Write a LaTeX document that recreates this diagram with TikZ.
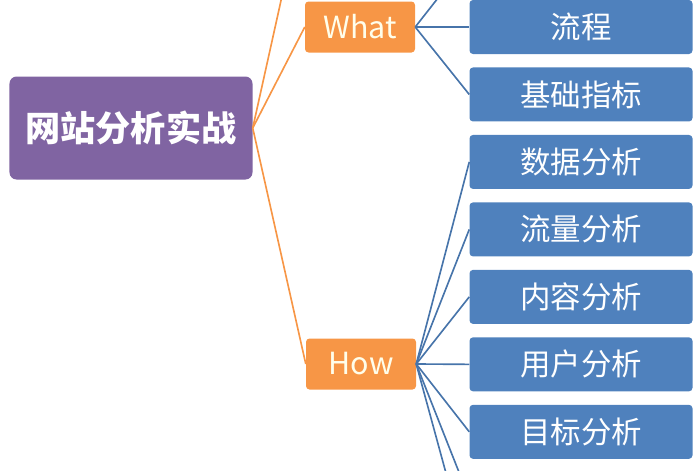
\documentclass[tikz,border=0pt]{standalone}
\usepackage{fontspec}
\newfontfamily\cjk{Noto Sans CJK SC}
\usetikzlibrary{positioning}
\definecolor{rootc}{HTML}{8064A2}
\definecolor{topicc}{HTML}{F79646}
\definecolor{leafc}{HTML}{4F81BD}

\begin{document}
\begin{tikzpicture}[
    root/.style={rounded corners=6pt, fill=rootc, minimum width=7.29cm, minimum height=3.09cm, text=white, font=\cjk\bfseries\fontsize{30}{34}\selectfont},
    topic/.style={rounded corners=3pt, fill=topicc, minimum width=3.3cm, minimum height=1.53cm, text=white!92!yellow, font=\cjk\fontsize{26}{30}\selectfont},
    leaf/.style={rounded corners=3pt, fill=leafc, minimum width=6.69cm, minimum height=1.62cm, text=white, font=\cjk\fontsize{26}{30}\selectfont},
    obranch/.style={draw=topicc, line width=1.4pt},
    bbranch/.style={draw=leafc!90!black, line width=1.4pt},
]
\useasboundingbox (0,0) rectangle (21,-14.1);
\clip (0,0) rectangle (21,-14.1);

% === ROOT AND TOPICS ===
\node[root] (site) at (3.93,-3.84) {网站分析实战};
\node[topic] (what) at (10.8,-0.81) {What};
\node[topic] (how) at (10.83,-10.92) {How};

% === LEAVES ===
\node[leaf] (flow) at (17.43,-0.81) {流程};
\node[leaf, below=0.39cm of flow] (basic) {基础指标};
\node[leaf, below=0.39cm of basic] (data) {数据分析};
\node[leaf, below=0.39cm of data] (traffic) {流量分析};
\node[leaf, below=0.39cm of traffic] (content) {内容分析};
\node[leaf, below=0.39cm of content] (user) {用户分析};
\node[leaf, below=0.39cm of user] (goal) {目标分析};

% branches leaving the frame
\coordinate (top_o) at (8.7,1.2);
\coordinate (top_b) at (13.8,0.9);
\coordinate (bot_b1) at (13.6,-15);
\coordinate (bot_b2) at (14.1,-15);

% === ORANGE BRANCHES ===
\coordinate (hub) at (site.east);
\draw[obranch] (hub) -- (top_o);
\draw[obranch] (hub) -- (what.west);
\draw[obranch] (hub) -- (how.west);

% === BLUE BRANCHES ===
\foreach \leafname in {flow, basic}
    \draw[bbranch] (what.east) -- (\leafname.west);
\draw[bbranch] (what.east) -- (top_b);
\foreach \leafname in {data, traffic, content, user, goal}
    \draw[bbranch] (how.east) -- (\leafname.west);
\draw[bbranch] (how.east) -- (bot_b1);
\draw[bbranch] (how.east) -- (bot_b2);

\end{tikzpicture}
\end{document}
